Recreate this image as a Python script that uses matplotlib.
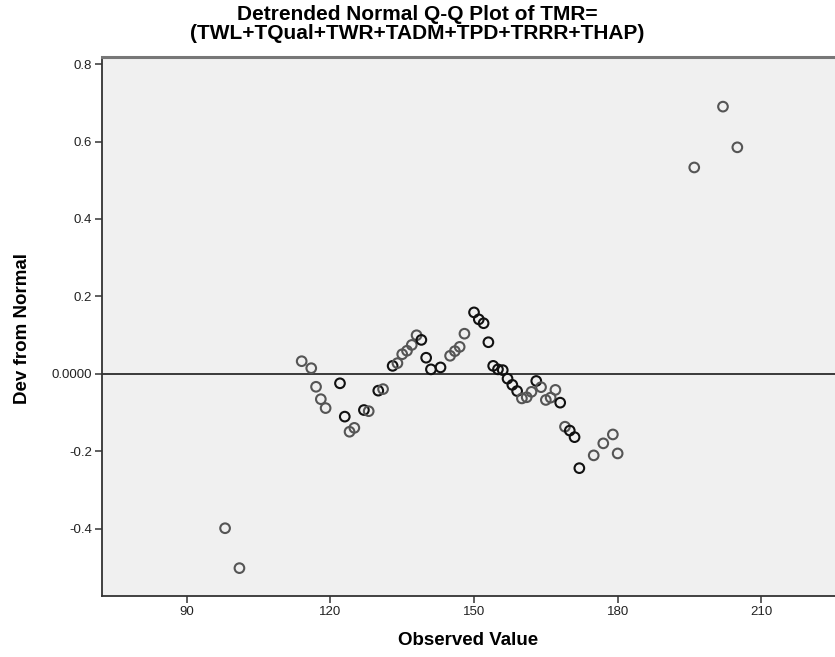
import matplotlib
matplotlib.use("Agg")
import matplotlib.pyplot as plt
import numpy as np

plt.rcParams['font.family'] = ['Liberation Sans', 'DejaVu Sans']

observed = [98, 101, 114, 116, 117, 118, 119, 122, 123, 124, 125, 127, 128, 130, 131,
            133, 134, 135, 136, 137, 138, 139, 140, 141, 143, 145, 146, 147, 148,
            150, 151, 152, 153, 154, 155, 156, 157, 158, 159, 160, 161, 162, 163,
            164, 165, 166, 167, 168, 169, 170, 171, 172, 175, 177, 179, 180,
            196, 202, 205]
dev_from_normal = [-0.398, -0.501, 0.033, 0.015, -0.033, -0.065, -0.088, -0.024, -0.110,
                   -0.149, -0.139, -0.093, -0.096, -0.043, -0.039,
                   0.021, 0.028, 0.051, 0.060, 0.075, 0.100, 0.088, 0.042, 0.012,
                   0.017, 0.047, 0.059, 0.070, 0.104,
                   0.159, 0.141, 0.131, 0.082, 0.021, 0.012, 0.010, -0.012, -0.028,
                   -0.044, -0.063, -0.060, -0.046, -0.018,
                   -0.034, -0.067, -0.061, -0.041, -0.074, -0.136, -0.146, -0.163,
                   -0.243, -0.210, -0.179, -0.156, -0.205,
                   0.533, 0.690, 0.585]
tied_cases = [1, 1, 1, 1, 1, 1, 1, 2, 2, 1, 1, 2, 1, 2, 1,
              2, 1, 1, 1, 1, 1, 2, 2, 2, 2, 1, 1, 1, 1,
              2, 2, 2, 2, 2, 2, 2, 2, 2, 2, 1, 1, 1, 2,
              1, 1, 1, 1, 2, 1, 2, 2, 2, 1, 1, 1, 1,
              1, 1, 1]

x_ticks = [90, 120, 150, 180, 210]
y_ticks = [0.8, 0.6, 0.4, 0.2, 0.0, -0.2, -0.4]
y_tick_labels = ['0.8', '0.6', '0.4', '0.2', '0.0000', '-0.2', '-0.4']

fig = plt.figure(figsize=(8.35, 6.57), dpi=100)
ax = fig.add_axes([0.1222, 0.0928, 0.8778, 0.8204])
ax.set_facecolor('#f0f0f0')

ax.axhline(0, color='#3a3a3a', lw=1.4, zorder=1)

obs = np.array(observed)
dev = np.array(dev_from_normal)
cnt = np.array(tied_cases)
edge_single = '#555555'
edge_tied = '#111111'
edges = [edge_tied if c > 1 else edge_single for c in cnt]
ax.scatter(obs, dev, s=48, facecolors='none', edgecolors=edges, linewidths=1.5, zorder=3)

ax.set_xlim(72.3, 225.4)
ax.set_ylim(-0.573, 0.818)
ax.set_xticks(x_ticks)
ax.set_yticks(y_ticks)
ax.set_yticklabels(y_tick_labels)
ax.tick_params(direction='out', length=5, width=1.2, color='#444444',
               labelsize=9.5, labelcolor='#222222', pad=2)

for side in ['left', 'bottom']:
    ax.spines[side].set_color('#333333')
    ax.spines[side].set_linewidth(1.3)
ax.spines['top'].set_color('#777777')
ax.spines['top'].set_linewidth(2.2)
ax.spines['right'].set_visible(False)

fig.text(0.5, 0.993, 'Detrended Normal Q-Q Plot of TMR=\n(TWL+TQual+TWR+TADM+TPD+TRRR+THAP)',
         ha='center', va='top', fontsize=15, fontweight='bold', linespacing=1.0)
fig.text(0.5611, 0.012, 'Observed Value', ha='center', va='bottom', fontsize=13.5, fontweight='bold')
fig.text(0.027, 0.5, 'Dev from Normal', ha='center', va='center', rotation=90,
         fontsize=13.5, fontweight='bold')

fig.savefig('out.png', dpi=100)
